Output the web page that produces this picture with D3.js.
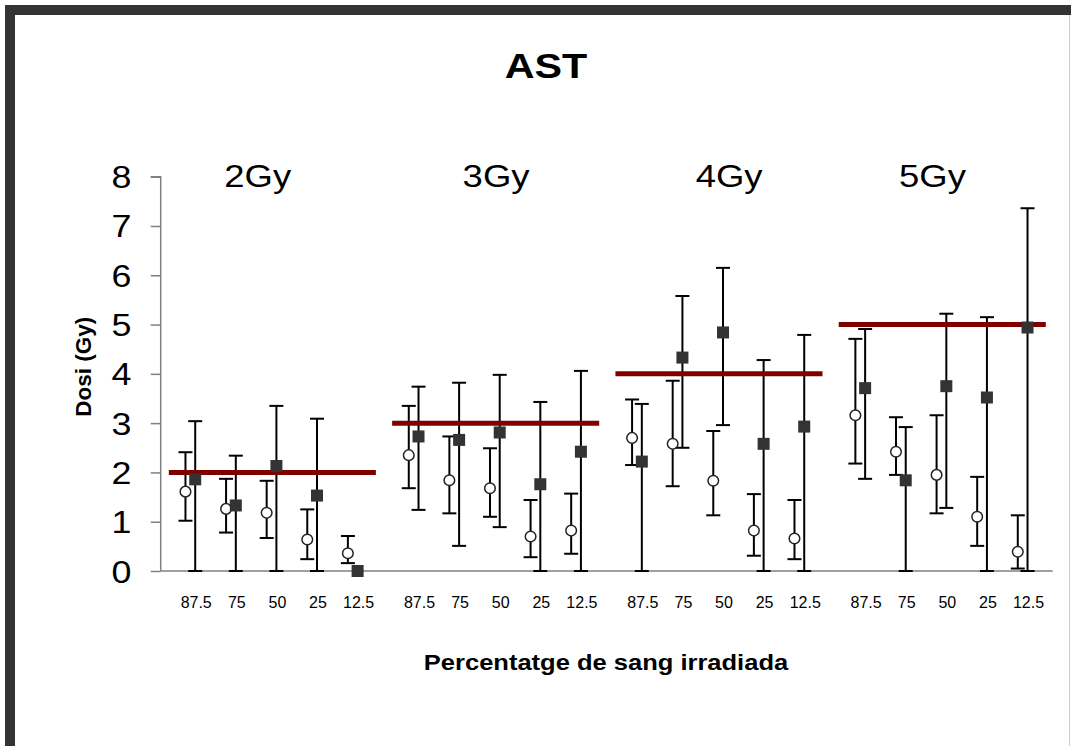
<!DOCTYPE html>
<html><head><meta charset="utf-8">
<script src="https://cdn.jsdelivr.net/npm/d3@7"></script>
<style>html,body{margin:0;padding:0;background:#fff;}svg{display:block;}</style>
</head><body>
<svg id="chart" width="1071" height="746"></svg>
<script>
// ---- data ----
const chartTitle = "AST";
const doseGroups = ["2Gy", "3Gy", "4Gy", "5Gy"];
const doseLevels = [2, 3, 4, 5];
const percentages = ["87.5", "75", "50", "25", "12.5"];
const yTicks = [0, 1, 2, 3, 4, 5, 6, 7, 8];
const yTitle = "Dosi (Gy)";
const xTitle = "Percentatge de sang irradiada";

// open circle series
const circleMean = [[1.61, 1.26, 1.18, 0.64, 0.36], [2.35, 1.84, 1.68, 0.70, 0.82], [2.70, 2.58, 1.83, 0.82, 0.66], [3.16, 2.42, 1.95, 1.10, 0.39]];
const circleHigh = [[2.41, 1.87, 1.83, 1.25, 0.71], [3.35, 2.73, 2.49, 1.44, 1.57], [3.48, 3.86, 2.84, 1.56, 1.44], [4.71, 3.12, 3.16, 1.91, 1.13]];
const circleLow  = [[1.02, 0.78, 0.67, 0.24, 0.16], [1.68, 1.17, 1.10, 0.28, 0.35], [2.15, 1.72, 1.13, 0.31, 0.24], [2.18, 1.95, 1.17, 0.51, 0.05]];
// filled square series
const squareMean = [[1.86, 1.33, 2.13, 1.53, 0.00], [2.73, 2.66, 2.81, 1.76, 2.42], [2.22, 4.33, 4.84, 2.58, 2.93], [3.71, 1.84, 3.75, 3.52, 4.94]];
const squareHigh = [[3.04, 2.34, 3.35, 3.09, 0.00], [3.74, 3.82, 3.98, 3.43, 4.06], [3.39, 5.58, 6.15, 4.28, 4.79], [4.91, 2.92, 5.22, 5.15, 7.36]];
const squareLow  = [[0, 0, 0, 0, 0], [1.24, 0.51, 0.89, 0, 0], [0, 2.50, 2.96, 0, 0], [1.87, 0, 1.28, 0, 0]];

// ---- layout ----
const svg = d3.select("#chart");
const FONT = "'Liberation Sans', Arial, sans-serif";
const groupStep = 5.5, circleShift = -0.24;
const labelShift = [-0.46, -0.09, 0.15, -0.34]; // group label offsets from group middle (slots)

const x = d3.scaleLinear().domain([-0.85, 21.12]).range([160.7, 1052.7]);
const y = d3.scaleLinear().domain([0, 8]).range([571, 176.7]);

// frame
svg.append("rect").attr("x", 5).attr("y", 5).attr("width", 1066).attr("height", 10).attr("fill", "#333");
svg.append("rect").attr("x", 5).attr("y", 5).attr("width", 10).attr("height", 741).attr("fill", "#333");
svg.append("line").attr("x1", 1069.5).attr("x2", 1069.5).attr("y1", 15).attr("y2", 746).attr("stroke", "#ccc").attr("stroke-width", 1);

function stretchedText(sel, tx, ty, sx, txt, size, weight, anchor) {
  return sel.append("text")
    .attr("transform", `translate(${tx},${ty}) scale(${sx},1)`)
    .attr("text-anchor", anchor || "middle")
    .attr("font-family", FONT).attr("font-size", size).attr("font-weight", weight || "normal")
    .attr("fill", "#000").text(txt);
}
// title
stretchedText(svg, 546, 78.3, 1.18, chartTitle, 35, "bold");

// y axis
const yAxis = d3.axisLeft(y).tickValues(yTicks).tickSize(10).tickPadding(0).tickFormat("");
const gy = svg.append("g").attr("transform", `translate(${x(-0.85)},0)`).call(yAxis);
gy.selectAll("path,line").attr("stroke", "#808080").attr("stroke-width", 1.5);
gy.select(".domain").attr("d", `M-10,${y(8)}H0V${y(0)}`);
yTicks.forEach(t => {
  stretchedText(svg, 131.5, y(t) + 11.5, 1.12, String(t), 32, "normal", "end");
});

// x axis line
svg.append("line").attr("x1", x(-0.85)).attr("x2", x(21.12)).attr("y1", y(0)).attr("y2", y(0))
  .attr("stroke", "#808080").attr("stroke-width", 1.5);

// x tick labels and group labels
doseGroups.forEach((g, gi) => {
  percentages.forEach((p, i) => {
    svg.append("text").attr("x", x(gi * groupStep + i) + 1).attr("y", 608.3)
      .attr("text-anchor", "middle").attr("font-family", FONT).attr("font-size", 16).attr("fill", "#000").text(p);
  });
  stretchedText(svg, x(gi * groupStep + 2 + labelShift[gi]), 187, 1.14, g, 32, "normal");
});

// axis titles
stretchedText(svg, 606, 670, 1.16, xTitle, 22, "bold");
svg.append("text").attr("transform", `translate(91,366.7) rotate(-90)`).attr("text-anchor", "middle")
  .attr("font-family", FONT).attr("font-size", 22.5).attr("font-weight", "bold").text(yTitle);

// error bars
const capW = 7;
function errorBar(cx, lo, hi) {
  if (hi - lo <= 0) return;
  const g = svg.append("g").attr("stroke", "#000").attr("stroke-width", 2);
  g.append("line").attr("x1", cx).attr("x2", cx).attr("y1", y(lo)).attr("y2", y(hi));
  g.append("line").attr("x1", cx - capW).attr("x2", cx + capW).attr("y1", y(hi)).attr("y2", y(hi));
  g.append("line").attr("x1", cx - capW).attr("x2", cx + capW).attr("y1", y(lo)).attr("y2", y(lo));
}
doseGroups.forEach((g, gi) => {
  percentages.forEach((p, i) => {
    const base = gi * groupStep + i;
    errorBar(x(base + circleShift), circleLow[gi][i], circleHigh[gi][i]);
    errorBar(x(base), squareLow[gi][i], squareHigh[gi][i]);
  });
});

// reference dose lines
doseLevels.forEach((d, gi) => {
  svg.append("line").attr("x1", x(gi * groupStep - 0.65)).attr("x2", x(gi * groupStep + 4.45))
    .attr("y1", y(d)).attr("y2", y(d)).attr("stroke", "#800000").attr("stroke-width", 5);
});

// markers
doseGroups.forEach((g, gi) => {
  percentages.forEach((p, i) => {
    const base = gi * groupStep + i;
    svg.append("circle").attr("cx", x(base + circleShift)).attr("cy", y(circleMean[gi][i])).attr("r", 5.3)
      .attr("fill", "#fff").attr("stroke", "#222").attr("stroke-width", 1.5);
    svg.append("rect").attr("x", x(base) - 6).attr("y", y(squareMean[gi][i]) - 6)
      .attr("width", 12).attr("height", 12).attr("fill", "#333");
  });
});
</script>
</body></html>
